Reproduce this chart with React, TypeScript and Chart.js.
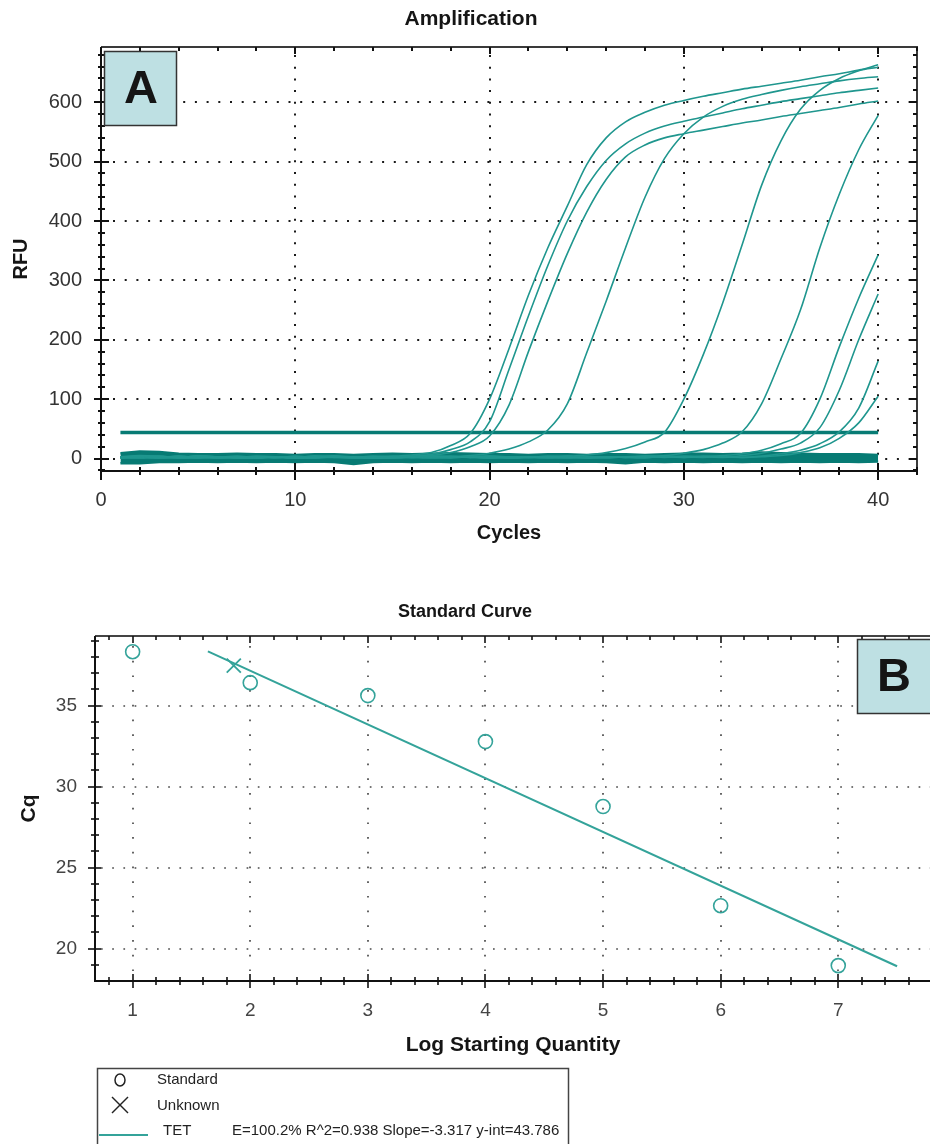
import React, { useEffect, useRef } from 'react';
import { Chart, registerables } from 'chart.js';

Chart.register(...registerables);

const FONT = "'Liberation Sans', Arial, Helvetica, sans-serif";

// ---------- Panel A : Amplification ----------
const AMP_TITLE = 'Amplification';
const AMP_X_TITLE = 'Cycles';
const AMP_Y_TITLE = 'RFU';
const AMP_X_TICKS = [0, 10, 20, 30, 40];
const AMP_Y_TICKS = [0, 100, 200, 300, 400, 500, 600];

const CYCLES = [1, 2, 3, 4, 5, 6, 7, 8, 9, 10, 11, 12, 13, 14, 15, 16, 17, 18, 19, 20,
  21, 22, 23, 24, 25, 26, 27, 28, 29, 30, 31, 32, 33, 34, 35, 36, 37, 38, 39, 40];

const CURVE_1 = [3, 5, 4, 2, 3, 1, 2, 3, 2, 1, 2, 3, 2, 3, 4, 6, 10, 22, 42, 100,
  185, 275, 355, 425, 495, 540, 567, 583, 595, 603, 610, 616, 622, 627, 632, 637, 643, 648, 654, 659];
const CURVE_2 = [2, 4, 3, 3, 1, 2, 4, 2, 3, 2, 1, 3, 2, 4, 3, 4, 7, 15, 28, 62,
  150, 240, 325, 400, 458, 502, 530, 548, 560, 568, 575, 582, 589, 595, 601, 606, 611, 616, 620, 624];
const CURVE_3 = [1, 3, 2, 4, 2, 3, 1, 2, 3, 1, 2, 2, 3, 1, 2, 3, 5, 10, 20, 38,
  90, 180, 265, 345, 415, 470, 508, 528, 540, 547, 553, 559, 565, 570, 576, 581, 586, 591, 597, 602];
const CURVE_4 = [2, 3, 1, 2, 4, 3, 2, 1, 3, 2, 2, 4, 3, 2, 1, 3, 4, 3, 5, 9,
  16, 28, 48, 92, 178, 265, 355, 440, 505, 547, 575, 593, 605, 613, 620, 626, 631, 636, 640, 643];
const CURVE_5 = [3, 2, 4, 1, 2, 3, 2, 4, 3, 1, 2, 3, 2, 1, 3, 2, 4, 3, 2, 3,
  1, 2, 3, 4, 6, 10, 17, 28, 44, 100, 175, 262, 360, 460, 535, 588, 620, 640, 653, 663];
const CURVE_6 = [2, 1, 3, 2, 4, 3, 1, 2, 3, 2, 4, 2, 1, 3, 2, 3, 2, 1, 3, 4,
  2, 3, 2, 1, 3, 2, 3, 4, 5, 9, 15, 26, 45, 92, 168, 250, 355, 445, 520, 578];
const CURVE_7 = [1, 3, 2, 2, 4, 1, 3, 2, 3, 1, 2, 4, 2, 3, 1, 2, 3, 2, 4, 3,
  1, 2, 3, 2, 1, 3, 2, 4, 3, 2, 3, 5, 8, 14, 25, 42, 100, 188, 270, 343];
const CURVE_8 = [3, 2, 1, 4, 2, 3, 2, 1, 3, 2, 4, 3, 2, 1, 2, 3, 4, 2, 3, 1,
  2, 3, 2, 4, 1, 3, 2, 3, 2, 4, 3, 2, 5, 9, 16, 26, 52, 115, 200, 277];
const CURVE_9 = [2, 4, 3, 1, 2, 3, 2, 3, 1, 4, 2, 3, 2, 1, 3, 2, 3, 4, 2, 1,
  3, 2, 4, 3, 2, 1, 3, 2, 3, 2, 4, 3, 2, 4, 8, 14, 25, 45, 85, 164];
const CURVE_10 = [1, 2, 3, 2, 4, 3, 2, 1, 3, 2, 3, 4, 1, 2, 3, 2, 1, 3, 2, 4,
  3, 2, 1, 3, 2, 3, 2, 1, 4, 3, 2, 3, 2, 3, 5, 10, 18, 34, 60, 105];
const AMP_CURVES = [CURVE_1, CURVE_2, CURVE_3, CURVE_4, CURVE_5, CURVE_6, CURVE_7, CURVE_8, CURVE_9, CURVE_10];

// negative-control / baseline wells (upper and lower edge of the flat band)
const NTC_HIGH = [9, 12, 11, 8, 7, 7, 8, 7, 7, 6, 7, 7, 6, 7, 8, 7, 8, 9, 8, 7,
  7, 6, 7, 7, 6, 7, 7, 6, 7, 8, 8, 7, 8, 10, 9, 8, 7, 7, 7, 6];
const NTC_LOW = [-8, -8, -6, -6, -5, -6, -5, -6, -5, -6, -5, -6, -9, -6, -5, -6, -5, -6, -5, -6,
  -5, -6, -5, -6, -5, -6, -8, -5, -6, -5, -6, -5, -6, -5, -6, -5, -6, -5, -6, -5];

const THRESHOLD = 44;
const THRESHOLD_CYCLES = [1, 40];

// ---------- Panel B : Standard Curve ----------
const STD_TITLE = 'Standard Curve';
const STD_X_TITLE = 'Log Starting Quantity';
const STD_Y_TITLE = 'Cq';
const STD_X_TICKS = [1, 2, 3, 4, 5, 6, 7];
const STD_Y_TICKS = [20, 25, 30, 35];

const STD_LOG = [1, 2, 3, 4, 5, 6, 7];
const STD_CQ = [38.33, 36.42, 35.62, 32.78, 28.77, 22.65, 18.95];
const UNK_LOG = [1.86];
const UNK_CQ = [37.47];
const FIT_LOG = [1.64, 7.5];
const FIT_CQ = [38.35, 18.91];
const FIT_STATS = 'E=100.2% R^2=0.938 Slope=-3.317 y-int=43.786';

const CURVE_COLOR = '#1f968e';
const BAND_COLOR = '#077b74';
const STD_COLOR = '#34a39a';
const PANEL_FILL = '#bee0e3';

function steps(from: number, to: number, step: number): number[] {
  const out: number[] = [];
  for (let v = from; v <= to + 1e-9; v += step) out.push(Math.round(v * 1000) / 1000);
  return out;
}

function seg(ctx: CanvasRenderingContext2D, x1: number, y1: number, x2: number, y2: number) {
  ctx.beginPath();
  ctx.moveTo(x1, y1);
  ctx.lineTo(x2, y2);
  ctx.stroke();
}

function panelLabel(ctx: CanvasRenderingContext2D, text: string, x: number, y: number, w: number, h: number) {
  ctx.save();
  ctx.fillStyle = PANEL_FILL;
  ctx.fillRect(x, y, w, h);
  ctx.strokeStyle = '#333';
  ctx.lineWidth = 1.5;
  ctx.strokeRect(x + 0.5, y + 0.5, w - 1, h - 1);
  ctx.fillStyle = '#151515';
  ctx.font = `bold 47px ${FONT}`;
  ctx.textAlign = 'center';
  ctx.textBaseline = 'middle';
  ctx.fillText(text, x + 37, y + h / 2 + 2);
  ctx.restore();
}

const ampPlugin = {
  id: 'ampFrame',
  beforeDatasetsDraw(chart: any) {
    const { ctx, chartArea: a, scales } = chart;
    const x = scales.x, y = scales.y;
    ctx.save();
    ctx.strokeStyle = '#1a1a1a';
    ctx.lineWidth = 2;
    ctx.setLineDash([2, 9.7]);
    for (const v of AMP_X_TICKS) {
      if (v === 0) continue;
      const px = Math.round(x.getPixelForValue(v));
      seg(ctx, px, a.top + 8, px, a.bottom);
    }
    for (const v of AMP_Y_TICKS) {
      const py = Math.round(y.getPixelForValue(v));
      seg(ctx, a.left + 12, py, a.right, py);
    }
    ctx.restore();
  },
  afterDatasetsDraw(chart: any) {
    const { ctx, chartArea: a, scales } = chart;
    const x = scales.x, y = scales.y;
    ctx.save();
    ctx.setLineDash([]);
    ctx.lineWidth = 2;
    ctx.strokeStyle = '#3a3a3a';
    seg(ctx, a.left, a.top, a.right + 1, a.top);
    seg(ctx, a.right, a.top, a.right, a.bottom);
    ctx.strokeStyle = '#111';
    seg(ctx, a.left, a.top, a.left, a.bottom + 9);
    seg(ctx, a.left - 1, a.bottom, a.right + 1, a.bottom);
    for (const v of steps(0, 42, 2)) {
      const px = Math.round(x.getPixelForValue(v));
      const major = AMP_X_TICKS.includes(v);
      seg(ctx, px, a.bottom - (major ? 8 : 4), px, a.bottom + (major ? 9 : 4));
      seg(ctx, px, a.top, px, a.top + (major ? 7 : 4));
    }
    for (const v of steps(-20, 680, 20)) {
      const py = Math.round(y.getPixelForValue(v));
      const major = AMP_Y_TICKS.includes(v);
      seg(ctx, a.left - (major ? 7 : 3), py, a.left + (major ? 8 : 4), py);
      seg(ctx, a.right - (major ? 8 : 4), py, a.right, py);
    }
    ctx.restore();
  },
  afterDraw(chart: any) {
    const { ctx, chartArea: a } = chart;
    ctx.save();
    ctx.fillStyle = '#151515';
    ctx.textAlign = 'center';
    ctx.textBaseline = 'middle';
    ctx.font = `bold 21px ${FONT}`;
    ctx.fillText(AMP_TITLE, 471, 19);
    ctx.font = `bold 20px ${FONT}`;
    ctx.fillText(AMP_X_TITLE, (a.left + a.right) / 2, 533);
    ctx.translate(21, (a.top + a.bottom) / 2);
    ctx.rotate(-Math.PI / 2);
    ctx.fillText(AMP_Y_TITLE, 0, 0);
    ctx.restore();
    panelLabel(ctx, 'A', 104, 51, 73, 75);
  },
};

const stdPlugin = {
  id: 'stdFrame',
  beforeDatasetsDraw(chart: any) {
    const { ctx, chartArea: a, scales } = chart;
    const x = scales.x, y = scales.y;
    ctx.save();
    ctx.strokeStyle = '#4a4a4a';
    ctx.lineWidth = 1.7;
    ctx.setLineDash([1.7, 13]);
    for (const v of STD_X_TICKS) {
      const px = Math.round(x.getPixelForValue(v));
      seg(ctx, px, a.top + 10, px, a.bottom);
    }
    ctx.setLineDash([1.7, 9.5]);
    for (const v of STD_Y_TICKS) {
      const py = Math.round(y.getPixelForValue(v));
      seg(ctx, a.left + 6, py, a.right, py);
    }
    ctx.restore();
  },
  afterDatasetsDraw(chart: any) {
    const { ctx, chartArea: a, scales } = chart;
    const x = scales.x, y = scales.y;
    ctx.save();
    ctx.setLineDash([]);
    ctx.lineWidth = 2;
    ctx.strokeStyle = '#444';
    seg(ctx, a.left, a.top, a.right + 2, a.top);
    ctx.strokeStyle = '#111';
    seg(ctx, a.left, a.top, a.left, a.bottom);
    seg(ctx, a.left - 1, a.bottom, a.right + 2, a.bottom);
    ctx.lineWidth = 1.6;
    for (const v of steps(0.8, 7.8, 0.2)) {
      const px = Math.round(x.getPixelForValue(v));
      const major = STD_X_TICKS.includes(v);
      seg(ctx, px, a.bottom - (major ? 7 : 4), px, a.bottom + (major ? 7 : 4));
      seg(ctx, px, a.top, px, a.top + (major ? 7 : 4));
    }
    for (const v of steps(19, 39, 1)) {
      const py = Math.round(y.getPixelForValue(v));
      const major = STD_Y_TICKS.includes(v);
      seg(ctx, a.left - (major ? 7 : 4), py, a.left + (major ? 6 : 4), py);
    }
    ctx.restore();
  },
  afterDraw(chart: any) {
    const { ctx, chartArea: a } = chart;
    const ds = chart.data.datasets;
    ctx.save();
    ctx.fillStyle = '#151515';
    ctx.textAlign = 'center';
    ctx.textBaseline = 'middle';
    ctx.font = `bold 18px ${FONT}`;
    ctx.fillText(STD_TITLE, 465, 32);
    ctx.font = `bold 21px ${FONT}`;
    ctx.fillText(STD_X_TITLE, 513, 465);
    ctx.save();
    ctx.translate(29, (a.top + a.bottom) / 2);
    ctx.rotate(-Math.PI / 2);
    ctx.fillText(STD_Y_TITLE, 0, 0);
    ctx.restore();

    // legend
    ctx.strokeStyle = '#444';
    ctx.lineWidth = 1.5;
    ctx.strokeRect(97.5, 488.5, 471, 140);
    ctx.textAlign = 'left';
    ctx.font = `15px ${FONT}`;
    ctx.fillStyle = '#222';
    ctx.strokeStyle = '#222';
    ctx.lineWidth = 1.5;
    ctx.beginPath();
    ctx.ellipse(120, 500, 5, 6, 0, 0, Math.PI * 2);
    ctx.stroke();
    ctx.fillText(ds[0].label, 157, 500);
    seg(ctx, 112, 517, 128, 533);
    seg(ctx, 112, 533, 128, 517);
    ctx.fillText(ds[1].label, 157, 526);
    ctx.strokeStyle = STD_COLOR;
    ctx.lineWidth = 2;
    seg(ctx, 99, 555, 148, 555);
    ctx.fillText(ds[2].label, 163, 551);
    ctx.fillText(FIT_STATS, 232, 551);
    ctx.restore();
    panelLabel(ctx, 'B', 857, 59, 90, 75);
  },
};

function tickFont(size: number, color: string) {
  return { color, font: { family: FONT, size }, autoSkip: false, maxRotation: 0, minRotation: 0 };
}

export default function App() {
  const ampRef = useRef<HTMLCanvasElement>(null);
  const stdRef = useRef<HTMLCanvasElement>(null);

  useEffect(() => {
    document.body.style.margin = '0';
    const lineSet = (label: string, xs: number[], ys: number[], extra: any) => ({
      label,
      data: xs.map((c, i) => ({ x: c, y: ys[i] })),
      pointRadius: 0,
      fill: false,
      ...extra,
    });

    const ampDatasets: any[] = [
      ...AMP_CURVES.map((vals, i) =>
        lineSet(`Well ${i + 1}`, CYCLES, vals, {
          borderColor: CURVE_COLOR,
          borderWidth: 1.6,
          cubicInterpolationMode: 'monotone',
        })
      ),
      lineSet('Threshold', THRESHOLD_CYCLES, THRESHOLD_CYCLES.map(() => THRESHOLD), {
        borderColor: BAND_COLOR,
        borderWidth: 3.5,
      }),
      lineSet('NTC high', CYCLES, NTC_HIGH, { borderColor: BAND_COLOR, borderWidth: 2.5 }),
      lineSet('NTC low', CYCLES, NTC_LOW, {
        borderColor: BAND_COLOR,
        backgroundColor: BAND_COLOR,
        borderWidth: 2.5,
        fill: '-1',
      }),
    ];

    const amp = new Chart(ampRef.current as HTMLCanvasElement, {
      type: 'line',
      data: { datasets: ampDatasets },
      plugins: [ampPlugin],
      options: {
        animation: false,
        responsive: false,
        events: [],
        layout: { autoPadding: false, padding: { top: 47, right: 13, left: 0, bottom: 0 } },
        plugins: { legend: { display: false }, title: { display: false }, tooltip: { enabled: false } },
        scales: {
          x: {
            type: 'linear',
            min: 0,
            max: 42,
            afterBuildTicks: (s: any) => { s.ticks = AMP_X_TICKS.map((v) => ({ value: v })); },
            afterFit: (s: any) => { s.height = 89; },
            grid: { display: false, drawTicks: false },
            border: { display: false },
            ticks: { ...tickFont(20, '#333'), padding: 17, callback: (v: any) => String(v) },
          },
          y: {
            type: 'linear',
            min: -21,
            max: 693,
            afterBuildTicks: (s: any) => { s.ticks = AMP_Y_TICKS.map((v) => ({ value: v })); },
            afterFit: (s: any) => { s.width = 101; },
            grid: { display: false, drawTicks: false },
            border: { display: false },
            ticks: { ...tickFont(20, '#333'), padding: 19, callback: (v: any) => String(v) },
          },
        },
      } as any,
    });

    const std = new Chart(stdRef.current as HTMLCanvasElement, {
      type: 'scatter',
      data: {
        datasets: [
          {
            label: 'Standard',
            data: STD_LOG.map((v, i) => ({ x: v, y: STD_CQ[i] })),
            pointStyle: 'circle',
            pointRadius: 7,
            borderColor: STD_COLOR,
            backgroundColor: 'rgba(0,0,0,0)',
            borderWidth: 1.6,
            showLine: false,
          },
          {
            label: 'Unknown',
            data: UNK_LOG.map((v, i) => ({ x: v, y: UNK_CQ[i] })),
            pointStyle: 'crossRot',
            pointRadius: 10,
            borderColor: STD_COLOR,
            borderWidth: 1.8,
            showLine: false,
          },
          {
            label: 'TET',
            data: FIT_LOG.map((v, i) => ({ x: v, y: FIT_CQ[i] })),
            pointRadius: 0,
            borderColor: STD_COLOR,
            borderWidth: 2,
            showLine: true,
          },
        ] as any,
      },
      plugins: [stdPlugin],
      options: {
        animation: false,
        responsive: false,
        events: [],
        layout: { autoPadding: false, padding: { top: 56, right: 0, left: 0, bottom: 0 } },
        plugins: { legend: { display: false }, title: { display: false }, tooltip: { enabled: false } },
        scales: {
          x: {
            type: 'linear',
            min: 0.68,
            max: 7.78,
            afterBuildTicks: (s: any) => { s.ticks = STD_X_TICKS.map((v) => ({ value: v })); },
            afterFit: (s: any) => { s.height = 163; },
            grid: { display: false, drawTicks: false },
            border: { display: false },
            ticks: { ...tickFont(19, '#444'), padding: 18, callback: (v: any) => String(v) },
          },
          y: {
            type: 'linear',
            min: 18.0,
            max: 39.3,
            afterBuildTicks: (s: any) => { s.ticks = STD_Y_TICKS.map((v) => ({ value: v })); },
            afterFit: (s: any) => { s.width = 95; },
            grid: { display: false, drawTicks: false },
            border: { display: false },
            ticks: { ...tickFont(19, '#444'), padding: 18, callback: (v: any) => String(v) },
          },
        },
      } as any,
    });

    return () => {
      amp.destroy();
      std.destroy();
    };
  }, []);

  return (
    <div style={{ position: 'relative', width: 930, height: 1144, overflow: 'hidden', background: '#fff' }}>
      <canvas ref={ampRef} width={930} height={560} style={{ position: 'absolute', left: 0, top: 0 }} />
      <canvas ref={stdRef} width={930} height={564} style={{ position: 'absolute', left: 0, top: 580 }} />
    </div>
  );
}
